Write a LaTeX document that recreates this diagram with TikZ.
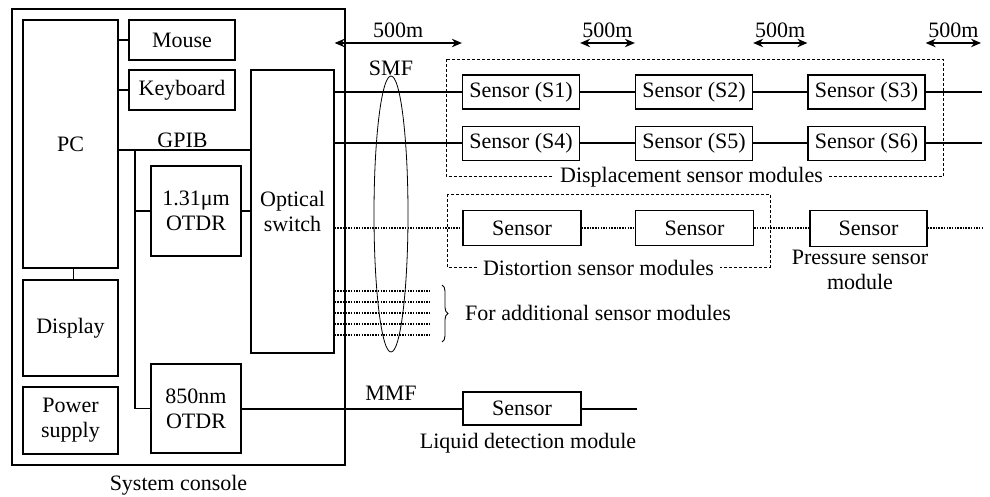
\documentclass[tikz,border=0pt]{standalone}
\usepackage{fontspec}
\setmainfont{Liberation Serif}
\usetikzlibrary{arrows.meta,decorations.pathreplacing}
\begin{document}
\begin{tikzpicture}[x=1pt,y=-1pt,
  every node/.style={font=\fontsize{22}{25}\selectfont},
  box/.style={draw, line width=1.3pt, inner sep=0pt, align=center},
  sensorbox/.style={box, minimum width=117pt, minimum height=34pt},
  conn/.style={line width=1.1pt},
  fiber/.style={line width=2pt},
  fiberdot/.style={line width=1.8pt, dash pattern=on 1.5pt off 1.2pt},
  modbox/.style={draw, line width=0.8pt, dash pattern=on 3pt off 2pt},
  modlabel/.style={fill=white, inner xsep=6pt, inner ysep=1pt},
  dist/.style={line width=1.3pt, {Stealth[length=10pt,width=8.5pt]}-{Stealth[length=10pt,width=8.5pt]}},
  txt/.style={inner sep=0pt, align=center}
]
\useasboundingbox (0,0) rectangle (990,497);

% ---------------- system console ----------------
\node[box, minimum width=333pt, minimum height=456pt] (console) at (178.5,237) {};
\node[txt] (consolelbl) at (178.5,485) {System console};

\node[box, minimum width=95pt, minimum height=248pt] (pc) at (70.5,144) {PC};
\node[box, minimum width=106pt, minimum height=40pt] (mouse) at (182,40) {Mouse};
\node[box, minimum width=106pt, minimum height=40pt] (kbd) at (182,90) {Keyboard};
\node[box, minimum width=95pt, minimum height=96pt] (display) at (70.5,328) {Display};
\node[box, minimum width=95pt, minimum height=67pt] (power) at (70.5,420.5) {Power\\supply};
\node[box, minimum width=90pt, minimum height=90pt] (otdrA) at (196,211) {1.31μm\\OTDR};
\node[box, minimum width=90pt, minimum height=89pt] (otdrB) at (196,408.5) {850nm\\OTDR};
\node[box, minimum width=83pt, minimum height=283pt] (switch) at (292.5,211.5) {Optical\\switch};

\draw[conn] (pc.east |- mouse.west) -- (mouse.west);
\draw[conn] (pc.east |- kbd.west) -- (kbd.west);
\draw[conn] ([xshift=3pt]pc.south) -- ([xshift=3pt]display.north);
\coordinate (gpib) at (118,150);
\draw[conn] (pc.east |- gpib) -- (switch.west |- gpib);
\node[txt] (gpiblbl) at (182.5,140) {GPIB};
\coordinate (bus) at (135,150);
\draw[conn] (bus) |- (otdrB.west);
\draw[conn] (bus |- otdrA.west) -- (otdrA.west);
\draw[conn] (otdrA.east) -- (switch.west |- otdrA.east);

% ---------------- displacement sensors ----------------
\node[sensorbox] (S1) at (521,92) {Sensor (S1)};
\node[sensorbox] (S2) at (694,92) {Sensor (S2)};
\node[sensorbox] (S3) at (866.5,92) {Sensor (S3)};
\node[sensorbox] (S4) at (521,143.5) {Sensor (S4)};
\node[sensorbox] (S5) at (694,143.5) {Sensor (S5)};
\node[sensorbox] (S6) at (866.5,143.5) {Sensor (S6)};
\coordinate (endA) at (982,92);
\coordinate (endB) at (982,143.5);

\draw[fiber] (S1.west -| switch.east) -- (S1.west);
\draw[fiber] (S1.east) -- (S2.west);
\draw[fiber] (S2.east) -- (S3.west);
\draw[fiber] (S3.east) -- (endA);
\draw[fiber] (S4.west -| switch.east) -- (S4.west);
\draw[fiber] (S4.east) -- (S5.west);
\draw[fiber] (S5.east) -- (S6.west);
\draw[fiber] (S6.east) -- (endB);

\draw[modbox] (446,59) rectangle (943,176.5);
\node[modlabel] (displbl) at (691.5,177) {Displacement sensor modules};

% ---------------- 500m arrows ----------------
\coordinate (arow) at (0,43);
\coordinate (aend) at (981,43);
\draw[dist] (switch.east |- arow) -- node[above=5pt, inner sep=0pt] (len1) {500m} (S1.west |- arow);
\draw[dist] (S1.east |- arow) -- node[above=5pt, inner sep=0pt] (len2) {500m} (S2.west |- arow);
\draw[dist] (S2.east |- arow) -- node[above=5pt, inner sep=0pt] (len3) {500m} (S3.west |- arow);
\draw[dist] (S3.east |- arow) -- node[above=5pt, inner sep=0pt] (len4) {500m} (aend);

\node[txt] (smf) at (391,68) {SMF};

% ---------------- distortion / pressure ----------------
\node[box, minimum width=118pt, minimum height=35pt] (D1) at (522,228) {Sensor};
\node[box, minimum width=118pt, minimum height=35pt] (D2) at (694.5,228) {Sensor};
\node[box, minimum width=117pt, minimum height=36pt] (P1) at (868.5,228.5) {Sensor};
\coordinate (endC) at (983,228);
\draw[fiberdot] (D1.west -| switch.east) -- (D1.west);
\draw[fiberdot] (D1.east) -- (D2.west);
\draw[fiberdot] (D2.east) -- (P1.west |- D2.east);
\draw[fiberdot] (P1.east |- endC) -- (endC);

\draw[modbox] (447,194) rectangle (770,267);
\node[modlabel] (distlbl) at (598.5,268) {Distortion sensor modules};
\node[txt] (preslbl) at (860,270) {Pressure sensor\\module};

% ---------------- additional lines ----------------
\foreach \yy in {291,302,313,324,335}{
  \coordinate (add\yy) at (430,\yy);
  \draw[fiberdot] (add\yy -| switch.east) -- (add\yy);
}
\draw[line width=0.9pt, decorate, decoration={brace, amplitude=6pt}] (442,285) -- (442,342);
\node[txt, anchor=west] (addlbl) at (465,313) {For additional sensor modules};

% ---------------- SMF bundle ellipse ----------------
\draw[line width=0.8pt] (391,214) ellipse [x radius=17pt, y radius=138pt];

% ---------------- liquid detection ----------------
\node[box, minimum width=118pt, minimum height=33pt] (liquid) at (522,408.5) {Sensor};
\coordinate (endD) at (637,408.5);
\draw[fiber] (otdrB.east) -- (liquid.west);
\draw[fiber] (liquid.east) -- (endD);
\node[txt] (mmf) at (391,393) {MMF};
\node[txt] (liqlbl) at (528,443) {Liquid detection module};
\end{tikzpicture}
\end{document}
